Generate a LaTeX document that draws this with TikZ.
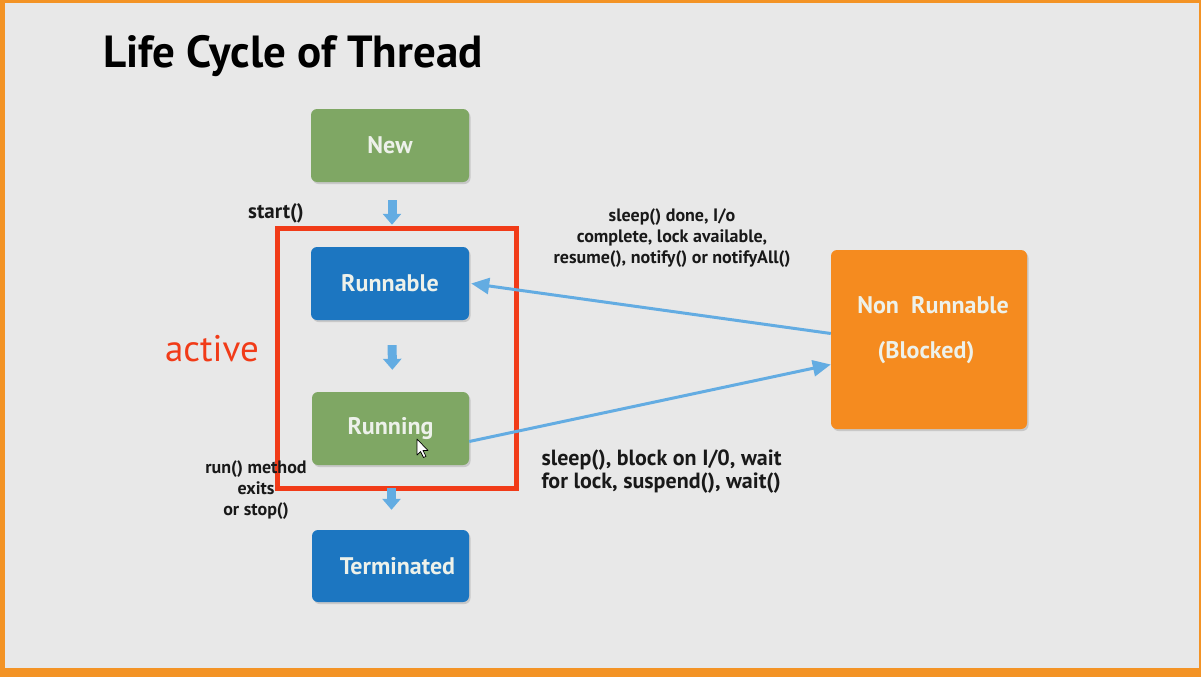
\documentclass[tikz,border=0pt]{standalone}
\usepackage{fontspec}
\setmainfont{PT Sans}
\usetikzlibrary{arrows.meta,shadows}
\definecolor{frame}{HTML}{F39325}
\definecolor{bg}{HTML}{E8E8E8}
\definecolor{stgreen}{HTML}{7FA764}
\definecolor{stblue}{HTML}{1C76C1}
\definecolor{storange}{HTML}{F58B1F}
\definecolor{actred}{HTML}{F13B18}
\definecolor{flow}{HTML}{63ACE2}
\definecolor{boxtext}{HTML}{EDF1EA}
\begin{document}
\begin{tikzpicture}[x=1pt,y=-1pt,
  state/.style={rounded corners=6pt, minimum width=158pt, minimum height=73pt,
    inner sep=0pt, text=boxtext, font=\bfseries\fontsize{24}{28}\selectfont,
    drop shadow={shadow xshift=1.5pt, shadow yshift=-2pt, opacity=0.3}},
  boxtxt/.style={text=boxtext, font=\bfseries\fontsize{24}{28}\selectfont},
  note/.style={font=\bfseries\fontsize{18}{21}\selectfont, align=center, text=black!90},
  stepflow/.style={draw=flow, line width=9pt,
    -{Triangle[width=18pt,length=11pt]}},
  transition/.style={draw=flow, line width=3pt,
    -{Triangle[width=16pt,length=18pt]}}]
  % frame and background
  \fill[frame] (0,0) rectangle (1201,677);
  \fill[bg] (5,3) rectangle (1199,668);

  % title
  \node[anchor=base west, font=\bfseries\fontsize{45}{52}\selectfont, inner sep=0pt]
    (title) at (103,67) {Life Cycle of Thread};

  % states
  \node[state, fill=stgreen] (new) at (390,145.5) {New};
  \node[state, fill=stblue] (runnable) at (390,283.5) {Runnable};
  \node[state, fill=stgreen, minimum width=157pt] (running) at (390.5,428.5) {Running};
  \node[state, fill=stblue, minimum width=157pt, minimum height=72pt] (terminated)
    at (390.5,566) {\hspace*{14pt}Terminated};
  \node[state, fill=storange, minimum width=196pt, minimum height=179pt] (nonrun)
    at (929,339.5) {};
  \node[boxtxt] (nr1) at (933,305) {Non~~Runnable};
  \node[boxtxt] (nr2) at (926,353) {(Blocked)};

  % active region
  \node[draw=actred, line width=5pt, minimum width=239pt, minimum height=260pt,
    inner sep=0pt] (activebox) at (396.5,358) {};
  \node[text=actred, font=\fontsize{37}{42}\selectfont] (activelbl) at (212,349) {active};

  % vertical steps
  \draw[stepflow, shorten <=18pt, shorten >=22pt] ([xshift=2pt]new.south) -- ([xshift=2pt]runnable.north);
  \draw[stepflow, shorten <=25pt, shorten >=22pt] ([xshift=2pt]runnable.south) -- ([xshift=2pt]running.north);
  \draw[stepflow, shorten <=23pt, shorten >=20pt] ([xshift=1pt]running.south) -- ([xshift=1pt]terminated.north);

  % transitions to and from the blocked state
  \draw[transition] ([yshift=6pt]nonrun.west) -- ([xshift=2pt]runnable.east);
  \draw[transition] ([yshift=-13pt]running.east) -- ([yshift=-25pt]nonrun.west);

  % labels
  \node[note, font=\bfseries\fontsize{21}{24}\selectfont] (startlbl) at (276,213) {start()};
  \node[note] (exitlbl) at (256,490) {run() method\\exits\\or stop()};
  \node[note] (wakelbl) at (672,238) {sleep() done, I/o\\complete, lock available,\\resume(), notify() or notifyAll()};
  \node[note, align=left, anchor=west, font=\bfseries\fontsize{22}{23}\selectfont]
    (blocklbl) at (538,471.5) {sleep(), block on I/0, wait\\for lock, suspend(), wait()};

  % mouse pointer
  \filldraw[fill=white, draw=black, line width=0.7pt, line join=round]
    (417,439) -- ++(0,16) -- ++(3.5,-3.5) -- ++(3,6) -- ++(2.5,-1.2) -- ++(-3,-5.8)
    -- ++(5,0) -- cycle;
\end{tikzpicture}
\end{document}
